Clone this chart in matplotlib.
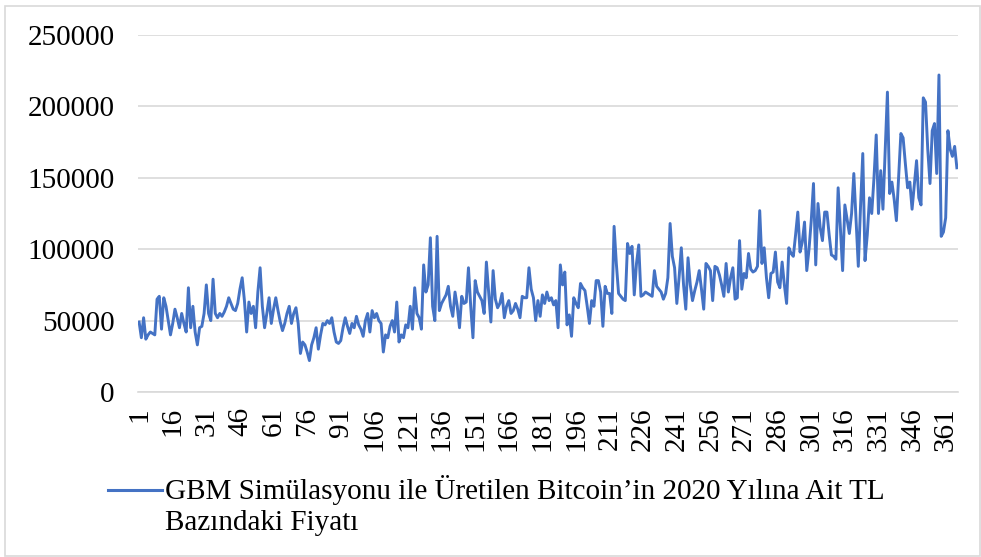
import numpy as np
import matplotlib
matplotlib.use("Agg")
import matplotlib.pyplot as plt
from matplotlib.lines import Line2D
from matplotlib.patches import Rectangle

# Daily simulated prices (thousand TL), 366 days of 2020
p001 = [49, 38, 52, 37, 40, 42, 41, 40, 65, 67, 44, 66, 60, 50, 40]
p016 = [48, 58, 52, 45, 55, 48, 42, 73, 45, 60, 42, 33, 45, 46, 55]
p031 = [75, 55, 50, 79, 55, 52, 55, 53, 56, 60, 66, 62, 58, 57, 62]
p046 = [72, 80, 64, 42, 63, 55, 60, 45, 70, 87, 60, 45, 55, 66, 48]
p061 = [58, 66, 57, 49, 43, 48, 55, 60, 48, 55, 59, 48, 27, 35, 33]
p076 = [28, 22, 33, 38, 45, 30, 40, 48, 47, 50, 48, 52, 42, 35, 34]
p091 = [36, 45, 52, 46, 41, 48, 45, 53, 47, 44, 39, 50, 55, 42, 57]
p106 = [52, 55, 50, 48, 28, 40, 38, 46, 50, 42, 63, 35, 40, 38, 47]
p121 = [45, 60, 44, 73, 55, 52, 44, 89, 70, 75, 108, 60, 50, 109, 57]
p136 = [62, 65, 68, 74, 60, 53, 70, 60, 45, 67, 62, 63, 87, 60, 38]
p151 = [78, 70, 67, 64, 55, 91, 70, 49, 85, 65, 59, 62, 69, 52, 60]
p166 = [64, 55, 57, 62, 58, 52, 67, 66, 66, 87, 72, 66, 50, 64, 53]
p181 = [68, 62, 70, 64, 66, 61, 64, 45, 89, 75, 84, 47, 54, 39, 66]
p196 = [62, 59, 76, 73, 71, 60, 48, 64, 60, 78, 78, 70, 46, 74, 69]
p211 = [69, 55, 116, 90, 69, 67, 65, 64, 104, 97, 102, 68, 90, 103, 67]
p226 = [68, 70, 69, 68, 67, 85, 74, 72, 70, 65, 69, 80, 118, 95, 87]
p241 = [62, 80, 101, 75, 58, 94, 75, 64, 71, 77, 85, 72, 58, 90, 88]
p256 = [85, 64, 88, 87, 82, 75, 67, 90, 70, 80, 87, 65, 66, 106, 72]
p271 = [83, 80, 97, 86, 84, 85, 88, 127, 90, 101, 80, 66, 83, 84, 98]
p286 = [77, 73, 91, 75, 62, 101, 97, 95, 110, 126, 98, 105, 119, 85, 100]
p301 = [120, 146, 89, 132, 115, 106, 126, 126, 110, 96, 95, 93, 143, 115, 85]
p316 = [131, 121, 111, 125, 153, 120, 88, 130, 167, 92, 110, 136, 125, 150, 180]
p331 = [125, 155, 128, 170, 210, 139, 147, 135, 120, 150, 181, 178, 160, 143, 147]
p346 = [128, 145, 162, 136, 131, 206, 203, 170, 146, 183, 188, 153, 222, 109, 112]
p361 = [122, 183, 170, 165, 172, 157]

price_thousand = (p001 + p016 + p031 + p046 + p061 + p076 + p091 + p106 + p121
                  + p136 + p151 + p166 + p181 + p196 + p211 + p226 + p241
                  + p256 + p271 + p286 + p301 + p316 + p331 + p346 + p361)
prices = np.array(price_thousand) * 1000
days = np.arange(1, len(prices) + 1)

x_ticks = list(range(1, 362, 15))
y_ticks = [0, 50000, 100000, 150000, 200000, 250000]
legend_label = "GBM Simülasyonu ile Üretilen Bitcoin’in 2020 Yılına Ait TL\nBazındaki Fiyatı"

plt.rcParams["font.family"] = ["Liberation Serif", "DejaVu Serif"]

W, H = 981, 557
fig = plt.figure(figsize=(W / 100, H / 100), dpi=100)
fig.patch.set_facecolor("white")
ax = fig.add_axes([138 / W, 1 - 392 / H, (958 - 138) / W, (392 - 35) / H])

ax.plot(days, prices, color="#4472C4", lw=2.1, solid_joinstyle="round")

ax.set_xlim(0.5, len(prices) + 0.5)
ax.set_ylim(0, 250000)
ax.set_yticks(y_ticks)
ax.set_yticklabels([str(v) for v in y_ticks], fontsize=21)
ax.set_xticks(x_ticks)
ax.set_xticklabels([str(v) for v in x_ticks], fontsize=21, rotation=90)
ax.tick_params(axis="y", length=0, pad=17, colors="black")
ax.tick_params(axis="x", length=0, pad=11, colors="black")
ax.grid(axis="y", color="#D9D9D9", lw=1.2)
ax.set_axisbelow(True)
for s in ["top", "right", "left"]:
    ax.spines[s].set_visible(False)
ax.spines["bottom"].set_color("#D9D9D9")
ax.spines["bottom"].set_linewidth(1.2)

# legend (handle aligned to first line of wrapped label)
fig.add_artist(Line2D([108 / W, 162 / W], [1 - 490 / H, 1 - 490 / H],
                      color="#4472C4", lw=2.2, transform=fig.transFigure))
fig.text(165 / W, 1 - 475 / H, legend_label, fontsize=21, va="top", ha="left",
         linespacing=1.25)

# outer chart border
fig.add_artist(Rectangle((5 / W, 1 - 556 / H), (980 - 5) / W, (556 - 6) / H,
                         transform=fig.transFigure, fill=False,
                         edgecolor="#D9D9D9", lw=1.2))

fig.savefig("out.png", dpi=100)
